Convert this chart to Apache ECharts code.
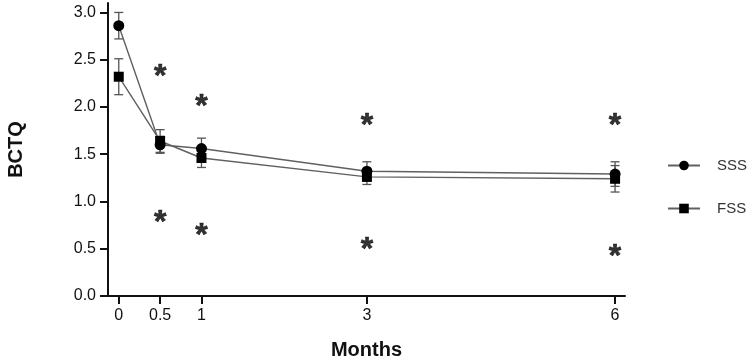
<!DOCTYPE html>
<html>
<head>
<meta charset="utf-8">
<script src="https://cdn.jsdelivr.net/npm/echarts@6/dist/echarts.min.js"></script>
<style>
	html, body { margin: 0; padding: 0; background: #fff; }
	#main { width: 750px; height: 362px; }
</style>
</head>
<body>
<div id="main"></div>
<script>
	// time points (months)
	var months = [0, 0.5, 1, 3, 6]
	var yTicks = [0, 0.5, 1, 1.5, 2, 2.5, 3]

	// mean BCTQ and error (half bar)
	var sssMean = [2.86, 1.60, 1.56, 1.32, 1.29]
	var sssErr = [0.14, 0.09, 0.11, 0.10, 0.13]
	var fssMean = [2.32, 1.64, 1.46, 1.26, 1.24]
	var fssErr = [0.19, 0.12, 0.10, 0.08, 0.14]

	// significance markers
	var starMonths = [0.5, 1, 3, 6]
	var starUpper = [2.39, 2.07, 1.87, 1.87]
	var starLower = [0.84, 0.71, 0.56, 0.48]

	function pairs(xs, ys) {
		return xs.map(function (x, i) { return [x, ys[i]] })
	}
	function errData(mean, err) {
		return months.map(function (m, i) { return [m, mean[i] - err[i], mean[i] + err[i]] })
	}
	function errBar(params, api) {
		var lo = api.coord([api.value(0), api.value(1)])
		var hi = api.coord([api.value(0), api.value(2)])
		var w = 4.5
		var st = { stroke: '#555', lineWidth: 1.3 }
		return {
			type: 'group',
			children: [
				{ type: 'line', shape: { x1: lo[0], y1: lo[1], x2: hi[0], y2: hi[1] }, style: st },
				{ type: 'line', shape: { x1: lo[0] - w, y1: lo[1], x2: lo[0] + w, y2: lo[1] }, style: st },
				{ type: 'line', shape: { x1: hi[0] - w, y1: hi[1], x2: hi[0] + w, y2: hi[1] }, style: st }
			]
		}
	}
	var starLabel = {
		show: true,
		position: 'inside',
		formatter: '*',
		fontSize: 32,
		fontWeight: 'bold',
		color: '#000',
		textBorderColor: '#000',
		textBorderWidth: 0.6,
		fontFamily: 'Liberation Sans, Arial, sans-serif',
		offset: [0, 7]
	}

	var myChart = echarts.init(document.getElementById('main'))
	var option = {
		animation: false,
		backgroundColor: '#fff',
		textStyle: { fontFamily: 'Liberation Sans, Arial, sans-serif' },
		grid: { left: 108, right: 125, top: 3, bottom: 66, outerBoundsMode: 'none' },
		legend: {
			orient: 'vertical',
			left: 667,
			top: 158,
			padding: 0,
			itemWidth: 32,
			itemHeight: 12,
			itemGap: 28,
			data: ['SSS', 'FSS'],
			textStyle: { fontSize: 15, color: '#333', padding: [0, 0, 0, 12] }
		},
		xAxis: {
			type: 'value',
			min: -0.13,
			max: 6.12,
			name: 'Months',
			nameLocation: 'middle',
			nameGap: 44,
			nameMoveOverlap: false,
			nameTextStyle: { fontSize: 20, fontWeight: 'bold', color: '#111' },
			splitLine: { show: false },
			axisLine: { lineStyle: { color: '#111', width: 2 } },
			axisTick: { length: 8, inside: false, customValues: months, lineStyle: { color: '#111', width: 2 } },
			axisLabel: { customValues: months, margin: 12, fontSize: 16, color: '#111' }
		},
		yAxis: {
			type: 'value',
			min: 0,
			max: 3.1,
			name: 'BCTQ',
			nameLocation: 'middle',
			nameGap: 82,
			nameMoveOverlap: false,
			nameTextStyle: { fontSize: 20, fontWeight: 'bold', color: '#111' },
			splitLine: { show: false },
			axisLine: { show: true, onZero: false, lineStyle: { color: '#111', width: 2 } },
			axisTick: { show: true, length: 8, customValues: yTicks, lineStyle: { color: '#111', width: 2 } },
			axisLabel: {
				customValues: yTicks, margin: 12, fontSize: 16, color: '#111',
				formatter: function (v) { return v.toFixed(1) }
			}
		},
		series: [
			{ type: 'custom', renderItem: errBar, data: errData(sssMean, sssErr), z: 1, silent: true },
			{ type: 'custom', renderItem: errBar, data: errData(fssMean, fssErr), z: 1, silent: true },
			{
				name: 'SSS', type: 'line', data: pairs(months, sssMean),
				symbol: 'circle', symbolSize: 11, z: 3,
				lineStyle: { color: '#606060', width: 1.4 },
				itemStyle: { color: '#000' }
			},
			{
				name: 'FSS', type: 'line', data: pairs(months, fssMean),
				symbol: 'rect', symbolSize: 10, z: 3,
				lineStyle: { color: '#606060', width: 1.4 },
				itemStyle: { color: '#000' }
			},
			{ type: 'scatter', data: pairs(starMonths, starUpper), symbolSize: 1, itemStyle: { color: 'rgba(0,0,0,0)' }, label: starLabel, silent: true },
			{ type: 'scatter', data: pairs(starMonths, starLower), symbolSize: 1, itemStyle: { color: 'rgba(0,0,0,0)' }, label: starLabel, silent: true }
		]
	}
	myChart.setOption(option, true)
</script>
</body>
</html>
